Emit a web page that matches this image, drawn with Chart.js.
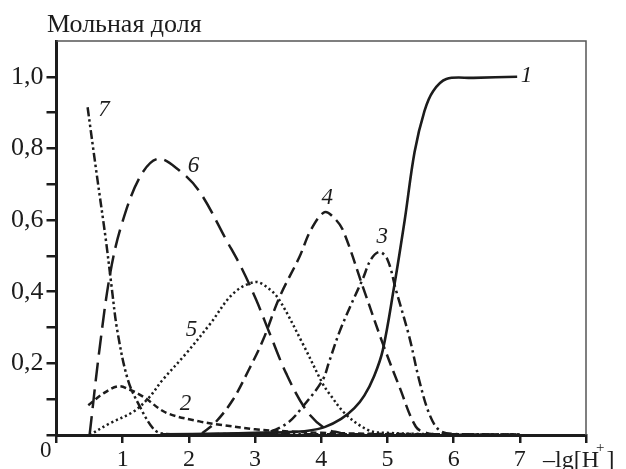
<!DOCTYPE html>
<html><head><meta charset="utf-8">
<script src="https://cdn.jsdelivr.net/npm/chart.js@4"></script>
<style>html,body{margin:0;padding:0;background:#fff;}canvas{display:block;}</style>
</head><body>
<canvas id="c" width="626" height="469"></canvas>
<script>
// Curve 1 (solid)
const x1 = [1.6, 2.5, 3.0, 3.5, 3.8, 4.05, 4.3, 4.5, 4.65, 4.8, 4.93, 5.1, 5.26, 5.41, 5.56, 5.69, 5.89, 6.3, 6.96];
const y1 = [0.002, 0.004, 0.006, 0.008, 0.012, 0.022, 0.045, 0.075, 0.11, 0.165, 0.237, 0.413, 0.599, 0.79, 0.905, 0.96, 0.994, 0.997, 1.0];
// Curve 2 (short dashes)
const x2 = [0.48, 0.7, 0.93, 1.1, 1.31, 1.66, 2.16, 2.5, 3.0, 3.5, 4.0, 5.0, 6.0, 7.0];
const y2 = [0.083, 0.115, 0.136, 0.127, 0.107, 0.062, 0.038, 0.028, 0.016, 0.01, 0.006, 0.003, 0.002, 0.001];
// Curve 3 (dash-dot)
const x3 = [2.0, 2.6, 3.0, 3.22, 3.5, 3.72, 4.02, 4.12, 4.28, 4.48, 4.63, 4.75, 4.88, 5.0, 5.13, 5.33, 5.48, 5.63, 5.78, 6.0, 7.0];
const y3 = [0.001, 0.003, 0.005, 0.009, 0.035, 0.079, 0.153, 0.205, 0.29, 0.376, 0.437, 0.49, 0.511, 0.49, 0.404, 0.274, 0.153, 0.06, 0.014, 0.003, 0.001];
// Curve 4 (medium dashes)
const x4 = [2.2, 2.4, 2.66, 2.9, 3.12, 3.37, 3.67, 3.85, 4.05, 4.2, 4.33, 4.63, 4.93, 5.18, 5.43, 5.6, 5.8, 6.5];
const y4 = [0.005, 0.035, 0.097, 0.18, 0.265, 0.385, 0.497, 0.575, 0.622, 0.605, 0.571, 0.413, 0.255, 0.135, 0.023, 0.005, 0.002, 0.001];
// Curve 5 (dotted)
const x5 = [0.5, 0.81, 1.16, 1.4, 1.6, 1.96, 2.32, 2.67, 3.0, 3.2, 3.37, 3.72, 4.02, 4.12, 4.38, 4.73, 5.0, 5.5, 6.0, 7.0];
const y5 = [0.0, 0.033, 0.065, 0.105, 0.153, 0.228, 0.31, 0.395, 0.427, 0.41, 0.376, 0.255, 0.144, 0.116, 0.056, 0.012, 0.006, 0.003, 0.002, 0.001];
// Curve 6 (long dashes)
const x6 = [0.5, 0.65, 0.81, 0.98, 1.26, 1.53, 1.86, 2.16, 2.57, 2.8, 3.02, 3.22, 3.47, 3.77, 4.05, 4.3];
const y6 = [0.0, 0.24, 0.45, 0.585, 0.72, 0.771, 0.738, 0.68, 0.543, 0.465, 0.376, 0.284, 0.172, 0.07, 0.019, 0.005];
// Curve 7 (dash-dot-dot)
const x7 = [0.47, 0.606, 0.747, 0.83, 0.92, 1.08, 1.26, 1.46, 1.6, 2.0, 3.0, 4.0, 5.0, 6.0, 7.0];
const y7 = [0.915, 0.73, 0.543, 0.418, 0.29, 0.153, 0.079, 0.018, 0.004, 0.002, 0.002, 0.002, 0.002, 0.001, 0.001];

const curveNames = ['1', '2', '3', '4', '5', '6', '7'];
// label anchor positions in data coordinates
const labelX = [7.1, 1.95, 4.92, 4.09, 2.04, 2.07, 0.716];
const labelY = [1.003, 0.088, 0.553, 0.662, 0.292, 0.752, 0.908];

const titleText = 'Мольная доля';
const xAxisText = '–lg[H';

const xs = [x1, x2, x3, x4, x5, x6, x7];
const ys = [y1, y2, y3, y4, y5, y6, y7];
const dashes = [[], [6, 3.5], [10, 4, 2.5, 4], [12, 6], [2.2, 2.8], [19, 8], [9, 3, 2.5, 3, 2.5, 3]];
const ink = '#1c1c1c';

const datasets = xs.map((xa, i) => ({
  label: curveNames[i],
  data: xa.map((x, j) => ({x: x, y: ys[i][j]})),
  borderColor: ink,
  borderWidth: i === 0 ? 2.6 : 2.5,
  borderDash: dashes[i],
  pointRadius: 0,
  fill: false,
  cubicInterpolationMode: 'default',
  tension: 0.35
}));

const decor = {
  id: 'decor',
  afterDraw(chart) {
    const ctx = chart.ctx;
    const a = chart.chartArea;
    const sx = chart.scales.x, sy = chart.scales.y;
    ctx.save();
    // thin top & right frame
    ctx.strokeStyle = '#555';
    ctx.lineWidth = 1.5;
    ctx.beginPath();
    ctx.moveTo(a.left, a.top);
    ctx.lineTo(a.right, a.top);
    ctx.lineTo(a.right, a.bottom);
    ctx.stroke();
    ctx.fillStyle = '#1c1c1c';
    // title
    ctx.font = '26px "Liberation Serif"';
    ctx.textAlign = 'left';
    ctx.textBaseline = 'alphabetic';
    ctx.fillText(titleText, 47, 32);
    // origin zero
    ctx.font = '23px "Liberation Serif"';
    ctx.fillText('0', 40, 457);
    // x axis label
    ctx.font = '24px "Liberation Serif"';
    let px = 543;
    ctx.fillText(xAxisText, px, 467);
    px += ctx.measureText(xAxisText).width;
    ctx.font = '15px "Liberation Serif"';
    ctx.fillText('+', px - 3, 452);
    px += ctx.measureText('+').width - 1;
    ctx.font = '24px "Liberation Serif"';
    ctx.fillText(']', px, 467);
    // curve labels
    ctx.font = 'italic 23px "Liberation Serif"';
    ctx.textAlign = 'center';
    ctx.textBaseline = 'middle';
    curveNames.forEach((n, i) => {
      ctx.fillText(n, sx.getPixelForValue(labelX[i]), sy.getPixelForValue(labelY[i]));
    });
    ctx.restore();
  }
};

new Chart(document.getElementById('c'), {
  type: 'line',
  data: { datasets: datasets },
  options: {
    responsive: false,
    devicePixelRatio: 1,
    animation: false,
    layout: { padding: { top: 41, right: 40, left: 0, bottom: 0 } },
    plugins: { legend: { display: false }, tooltip: { enabled: false } },
    scales: {
      x: {
        type: 'linear', min: 0, max: 8,
        afterFit: s => { s.height = 34; },
        ticks: {
          stepSize: 1, autoSkip: false, maxRotation: 0, padding: 2,
          color: '#1c1c1c',
          font: { family: 'Liberation Serif', size: 24 },
          callback: v => (v >= 1 && v <= 7) ? String(v) : ''
        },
        grid: { drawOnChartArea: false, drawTicks: true, tickLength: 8, color: '#1c1c1c', lineWidth: 2.5 },
        border: { display: true, color: '#1c1c1c', width: 3 }
      },
      y: {
        type: 'linear', min: 0, max: 1.1,
        afterFit: s => { s.width = 56.5; },
        ticks: {
          stepSize: 0.1, autoSkip: false, padding: 3,
          color: '#1c1c1c',
          font: { family: 'Liberation Serif', size: 26 },
          callback: v => { const r = Math.round(v * 10); return (r % 2 === 0 && r > 0 && r <= 10) ? (r / 10).toFixed(1).replace('.', ',') : ''; }
        },
        grid: {
          drawOnChartArea: false, drawTicks: true, tickLength: 10, lineWidth: 2.5,
          color: c => (c.tick && Math.round(c.tick.value * 10) >= 11) ? 'rgba(0,0,0,0)' : '#1c1c1c'
        },
        border: { display: true, color: '#1c1c1c', width: 3 }
      }
    }
  },
  plugins: [decor]
});
</script>
</body></html>
